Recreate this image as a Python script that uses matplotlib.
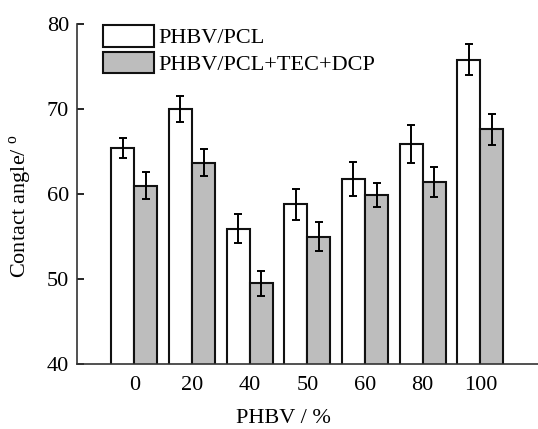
import matplotlib
matplotlib.use("Agg")
import matplotlib.pyplot as plt
import numpy as np

categories = ["0", "20", "40", "50", "60", "80", "100"]
phbv_pcl = [65.4, 70.0, 55.9, 58.8, 61.8, 65.9, 75.8]
phbv_pcl_err = [1.2, 1.5, 1.7, 1.8, 2.0, 2.2, 1.8]
phbv_tec = [61.0, 63.7, 49.5, 55.0, 59.9, 61.4, 67.6]
phbv_tec_err = [1.6, 1.6, 1.5, 1.7, 1.4, 1.8, 1.8]
labels = ["PHBV/PCL", "PHBV/PCL+TEC+DCP"]

plt.rcParams['font.family'] = ['Liberation Serif', 'DejaVu Serif']
plt.rcParams['mathtext.fontset'] = 'custom'
plt.rcParams['mathtext.rm'] = 'Liberation Serif'

fs = 16
W, H = 538, 429
L, R, B, T = 76.7, 538, 364, 24
fig = plt.figure(figsize=(W/100, H/100), dpi=100)
ax = fig.add_axes([L/W, 1-B/H, (R-L)/W, (B-T)/H])

x = np.arange(len(categories))
w = 0.4
ekw = dict(elinewidth=1.4, capsize=2.6, capthick=1.4, ecolor='black')
ax.bar(x - w/2, phbv_pcl, w, color='white', edgecolor='#111111', linewidth=1.5,
       yerr=phbv_pcl_err, error_kw=ekw, label=labels[0], zorder=2)
ax.bar(x + w/2, phbv_tec, w, color='#bdbdbd', edgecolor='#111111', linewidth=1.5,
       yerr=phbv_tec_err, error_kw=ekw, label=labels[1], zorder=2)

ax.set_xlim(-1, 7)
ax.set_ylim(40, 80)
ax.set_yticks([40, 50, 60, 70, 80])
ax.set_xticks(x)
ax.set_xticklabels(categories)
for s in ['top', 'right']:
    ax.spines[s].set_visible(False)
for s in ['left', 'bottom']:
    ax.spines[s].set_linewidth(1.2)
    ax.spines[s].set_color('#333333')
ax.tick_params(axis='y', direction='in', length=5, width=1.2, labelsize=fs, pad=5.5)
ax.tick_params(axis='x', length=0, labelsize=fs, pad=9)

ax.set_xlabel("PHBV / %", fontsize=fs)
ax.xaxis.set_label_coords((283-L)/(R-L), -(428-B)/(B-T), transform=ax.transAxes)
ax.xaxis.label.set_va('bottom')
ax.set_ylabel(r"Contact angle/ $^{\rm o}$", fontsize=fs, va='center', ha='center')
ax.yaxis.set_label_coords(-(L-21)/(R-L), (B-206)/(B-T), transform=ax.transAxes)

h = fs * 100 / 72
leg = ax.legend(loc='upper left', bbox_to_anchor=((102.7-L)/(R-L), 1-(25-T)/(B-T)),
                frameon=False, fontsize=fs,
                handlelength=51.6/h, handleheight=25/h, labelspacing=0.15, handletextpad=0.2,
                borderaxespad=0, borderpad=0)

fig.savefig("out.png", dpi=100)
